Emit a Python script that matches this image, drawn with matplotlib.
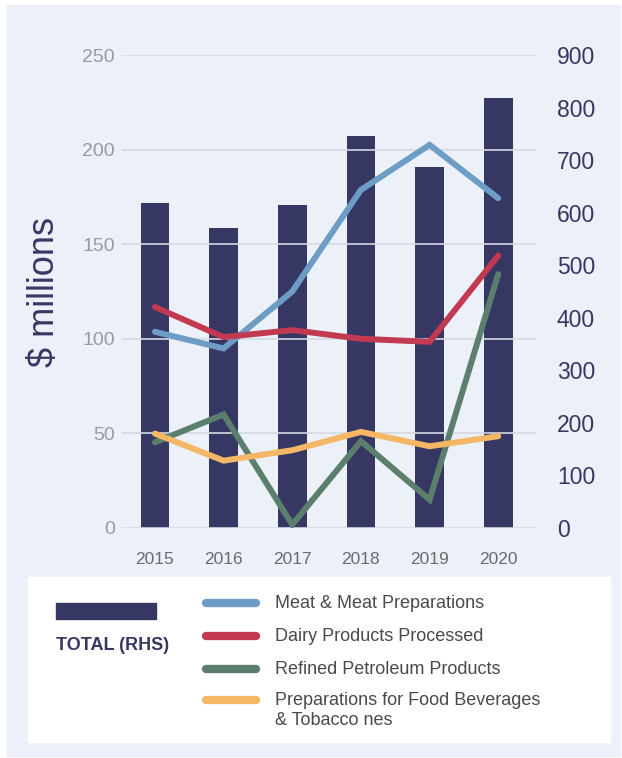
import matplotlib
matplotlib.use("Agg")
import matplotlib.pyplot as plt
from matplotlib.patches import Rectangle
from matplotlib.lines import Line2D

plt.rcParams['font.family'] = ['Liberation Sans', 'DejaVu Sans']

# data
years = ['2015', '2016', '2017', '2018', '2019', '2020']
total_rhs = [618, 570, 614, 746, 686, 819]
meat = [103.7, 94.9, 125.0, 178.7, 202.5, 174.3]
dairy = [116.8, 100.9, 104.6, 100.0, 98.4, 144.0]
petroleum = [45.3, 60.0, 1.8, 45.9, 15.0, 134.2]
food_bev = [49.9, 35.6, 41.1, 50.8, 43.2, 48.5]

series_names = ['Meat & Meat Preparations', 'Dairy Products Processed',
                'Refined Petroleum Products',
                'Preparations for Food Beverages\n& Tobacco nes']
series_colors = ['#6d9dc5', '#c13a51', '#5b7f6c', '#f4b766']
navy = '#363763'

W, H = 622, 758
fig = plt.figure(figsize=(W / 100, H / 100), dpi=100)
fig.patch.set_facecolor('white')

# light panel and white legend box (behind the axes)
fig.patches.append(Rectangle((7 / W, 1 - 756 / H), 613 / W, 751 / H,
                             transform=fig.transFigure, color='#ecf0f8', zorder=-3))
fig.patches.append(Rectangle((28 / W, 1 - 742 / H), 582 / W, 165 / H,
                             transform=fig.transFigure, color='white', zorder=-2))

ax = fig.add_axes([122 / W, 1 - 528 / H, 414 / W, 473 / H])
ax2 = ax.twinx()
ax.set_zorder(ax2.get_zorder() + 1)
ax.patch.set_visible(False)
ax2.patch.set_visible(False)

x = list(range(len(years)))

# bars on the right axis
ax2.bar(x, total_rhs, width=0.42, color=navy, zorder=1)
ax2.set_ylim(0, 900)
ax2.set_yticks(range(0, 901, 100))
ax2.tick_params(axis='y', length=0, pad=15, labelsize=16.5, labelcolor=navy)

# lines on the left axis
for vals, c in zip([meat, dairy, petroleum, food_bev], series_colors):
    ax.plot(x, vals, color=c, lw=4.3, solid_capstyle='round',
            solid_joinstyle='miter', zorder=3)

ax.set_ylim(0, 250)
ax.set_yticks(range(0, 251, 50))
ax.set_xlim(-0.48, 5.55)
ax.set_xticks(x)
ax.set_xticklabels(years)
ax.grid(axis='y', color='#d5d8e0', lw=1.2, zorder=2)
ax.set_axisbelow(False)
ax.tick_params(axis='y', length=0, pad=5, labelsize=14, labelcolor='#9a9a9e')
ax.tick_params(axis='x', length=0, pad=17, labelsize=12.5, labelcolor='#6a6a6e')
ax.set_ylabel('$ millions', fontsize=26, color=navy, labelpad=15)

for a in (ax, ax2):
    for s in a.spines.values():
        s.set_visible(False)

# legend drawn by hand to match the layout
fig.patches.append(Rectangle((56 / W, 1 - 619 / H), 100 / W, 16 / H,
                             transform=fig.transFigure, color=navy, zorder=2))
fig.text(56 / W, 1 - 645 / H, 'TOTAL (RHS)', fontsize=13, fontweight='bold',
         color=navy, va='center', ha='left')
leg_y = [603, 636, 669, 700]
for name, c, yy in zip(series_names, series_colors, leg_y):
    fig.lines.append(Line2D([206 / W, 256 / W], [1 - yy / H, 1 - yy / H],
                            transform=fig.transFigure, color=c, lw=6,
                            solid_capstyle='round'))
    fig.text(275 / W, 1 - (yy - 8) / H, name, fontsize=13, color='#4a4a4e',
             va='top', ha='left', linespacing=1.25)

fig.savefig('out.png', dpi=100)
